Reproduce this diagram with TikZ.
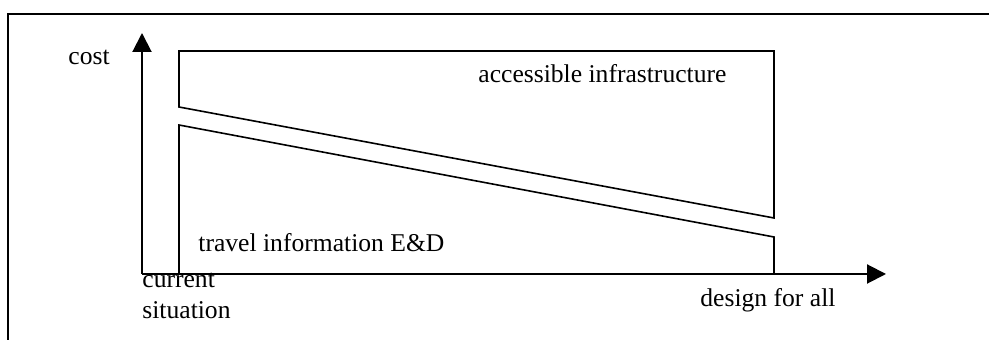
\documentclass[tikz,border=0pt]{standalone}
\usepackage{fontspec}
\setmainfont{Liberation Serif}
\usetikzlibrary{arrows.meta}
\begin{document}
\begin{tikzpicture}
[x=.5pt,y=-.5pt]
\tikzset{lbl/.style={inner sep=0,anchor=base west,font=\fontsize{12.8}{15.5}\selectfont}}
\tikzset{axis/.style={line width=1pt,-{Triangle[length=9.5pt,width=9.5pt]}}}
\tikzset{band/.style={line width=.8pt,line join=miter}}
\useasboundingbox (0,0) rectangle (989,340);
\draw [line width=1.2pt] (8,342) -- (8,14) -- (992,14);
\coordinate (o) at (142,274);
\coordinate (ytip) at (142,33);
\coordinate (xtip) at (886,274);
\draw [band] (179,51) -- (774,51) -- (774,218) -- (179,107) -- cycle;
\draw [band] (179,274) -- (179,125) -- (774,237) -- (774,274);
\draw [axis] (o) -- (ytip);
\draw [axis] (o) -- (xtip);
\node [lbl] (cost) at (68,65) {cost};
\node [lbl] (infra) at (478,83) {accessible infrastructure};
\node [lbl] (travel) at (198,252) {travel information E\&D};
\node [lbl,align=left] (current) at (142,319) {current\\situation};
\node [lbl] (dfa) at (700,307) {design for all};
\end{tikzpicture}
\end{document}
